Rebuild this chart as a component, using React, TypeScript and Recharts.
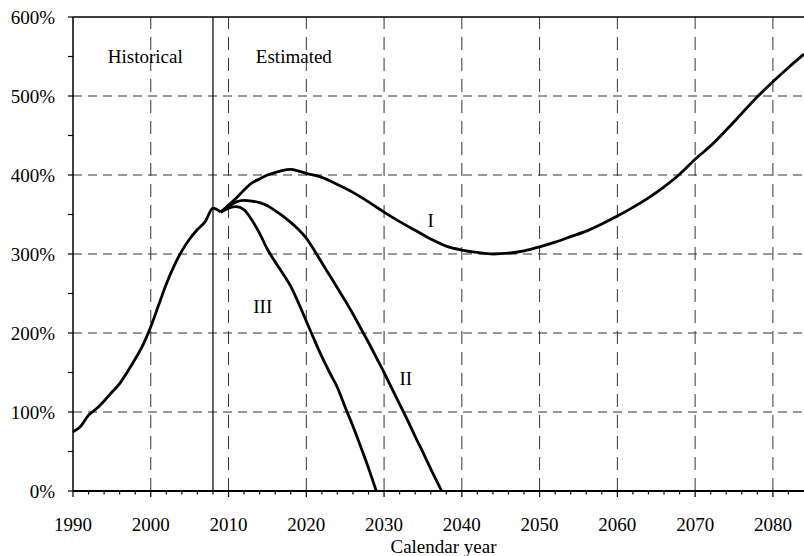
import { Line, LineChart, ReferenceDot, ReferenceLine, XAxis, YAxis } from "recharts";

const FONT = '"Liberation Serif", "Times New Roman", serif';

// historical ratio, 1990-2009
const HIST_YEARS = [1990, 1991, 1992, 1993, 1994, 1995, 1996, 1997, 1998, 1999, 2000, 2001, 2002, 2003, 2004, 2005, 2006, 2007, 2008, 2009];
const HIST_VALUES = [75, 82, 96, 104, 114, 125, 136, 151, 167, 185, 208, 235, 262, 285, 304, 319, 331, 341, 358, 353];

// alternative I (intermediate)
const ALT1_YEARS = [2009, 2010, 2011, 2012, 2013, 2014, 2015, 2016, 2017, 2018, 2019, 2020, 2022, 2024, 2026, 2028, 2030, 2032, 2034, 2036, 2038, 2040, 2042, 2044, 2046, 2048, 2050, 2052, 2054, 2056, 2058, 2060, 2062, 2064, 2066, 2068, 2070, 2072, 2074, 2076, 2078, 2080, 2082, 2084];
const ALT1_VALUES = [353, 362, 371, 381, 390, 395, 400, 403, 406, 407, 405, 402, 397, 388, 378, 366, 353, 341, 330, 319, 310, 305, 302, 300, 301, 304, 309, 315, 322, 329, 338, 348, 359, 371, 385, 401, 420, 437, 457, 478, 499, 518, 536, 553];

// alternative II
const ALT2_YEARS = [2009, 2010, 2011, 2012, 2013, 2014, 2015, 2016, 2017, 2018, 2019, 2020, 2021, 2022, 2023, 2024, 2025, 2026, 2027, 2028, 2029, 2030, 2031, 2032, 2033, 2034, 2035, 2036, 2037, 2037.4];
const ALT2_VALUES = [353, 360, 366, 368, 367, 365, 361, 355, 348, 340, 331, 320, 305, 289, 273, 257, 241, 224, 206, 188, 169, 150, 130, 110, 90, 69, 49, 28, 8, 0];

// alternative III
const ALT3_YEARS = [2009, 2010, 2011, 2012, 2013, 2014, 2015, 2016, 2017, 2018, 2019, 2020, 2021, 2022, 2023, 2024, 2025, 2026, 2027, 2028, 2029];
const ALT3_VALUES = [353, 358, 360, 356, 343, 326, 306, 290, 275, 259, 238, 215, 192, 170, 150, 131, 106, 82, 56, 29, 0];

const X_TICKS = Array.from({ length: 47 }, (_, i) => 1990 + i * 2);
const X_GRID = [2000, 2010, 2020, 2030, 2040, 2050, 2060, 2070, 2080];
const Y_TICKS = [0, 50, 100, 150, 200, 250, 300, 350, 400, 450, 500, 550, 600];
const Y_GRID = [100, 200, 300, 400, 500];

const toPoints = (years: number[], values: number[]) =>
  years.map((year, i) => ({ year, v: values[i] }));

const SERIES = [
  { key: "hist", data: toPoints(HIST_YEARS, HIST_VALUES) },
  { key: "alt1", data: toPoints(ALT1_YEARS, ALT1_VALUES) },
  { key: "alt2", data: toPoints(ALT2_YEARS, ALT2_VALUES) },
  { key: "alt3", data: toPoints(ALT3_YEARS, ALT3_VALUES) },
];

// annotation text, anchored at data coordinates
const NOTES = [
  { text: "Historical", x: 1999.3, y: 550 },
  { text: "Estimated", x: 2018.4, y: 550 },
  { text: "I", x: 2036.0, y: 343 },
  { text: "II", x: 2032.8, y: 143 },
  { text: "III", x: 2014.4, y: 234 },
];

function XTick({ x, y, payload }: any) {
  const major = payload.value % 10 === 0;
  return (
    <g>
      <line x1={x} x2={x} y1={y} y2={y + (major ? 6 : 3.5)} stroke="#000" strokeWidth={1.2} />
      {major && (
        <text x={x} y={y + 40} textAnchor="middle" fontFamily={FONT} fontSize={19} fill="#000">
          {payload.value}
        </text>
      )}
    </g>
  );
}

function YTick({ x, y, payload }: any) {
  const major = payload.value % 100 === 0;
  return (
    <g>
      <line x1={x - 5} x2={x} y1={y} y2={y} stroke="#000" strokeWidth={1.2} />
      {major && (
        <text x={x - 18} y={y} dy="0.35em" textAnchor="end" fontFamily={FONT} fontSize={19} fill="#000">
          {payload.value}%
        </text>
      )}
    </g>
  );
}

export default function App() {
  return (
    <div style={{ position: "absolute", left: 0, top: 0 }}>
      <style>{"body{margin:0}"}</style>
      <LineChart
        width={804}
        height={556}
        margin={{ top: 17, right: 0, bottom: 0, left: 0 }}
        style={{ fontFamily: FONT, background: "#fff" }}
      >
        <XAxis
          dataKey="year"
          type="number"
          domain={[1990, 2084]}
          ticks={X_TICKS}
          interval={0}
          height={65}
          tickSize={0}
          tickMargin={0}
          tickLine={false}
          tick={<XTick />}
          axisLine={{ stroke: "#000", strokeWidth: 2 }}
          label={{ value: "Calendar year", position: "insideBottom", offset: 3, dx: 5, fontSize: 19, fill: "#000", fontFamily: FONT }}
        />
        <YAxis
          type="number"
          domain={[0, 600]}
          ticks={Y_TICKS}
          interval={0}
          width={73}
          tickSize={0}
          tickMargin={0}
          tickLine={false}
          tick={<YTick />}
          axisLine={{ stroke: "#000", strokeWidth: 1.5 }}
        />
        {X_GRID.map((v) => (
          <ReferenceLine key={`gx${v}`} x={v} stroke="#333" strokeDasharray="13 8" />
        ))}
        {Y_GRID.map((v) => (
          <ReferenceLine key={`gy${v}`} y={v} stroke="#333" strokeDasharray="9 6" />
        ))}
        <ReferenceLine y={600} stroke="#000" strokeWidth={1.5} />
        <ReferenceLine x={2008} stroke="#000" strokeWidth={1.2} />
        {SERIES.map((s) => (
          <Line
            key={s.key}
            data={s.data}
            dataKey="v"
            type="monotone"
            stroke="#000"
            strokeWidth={2.8}
            dot={false}
            activeDot={false}
            isAnimationActive={false}
          />
        ))}
        {NOTES.map((n) => (
          <ReferenceDot
            key={n.text}
            x={n.x}
            y={n.y}
            r={0}
            stroke="none"
            fill="none"
            label={{ value: n.text, position: "center", fontSize: 19, fill: "#000", fontFamily: FONT }}
          />
        ))}
      </LineChart>
    </div>
  );
}
